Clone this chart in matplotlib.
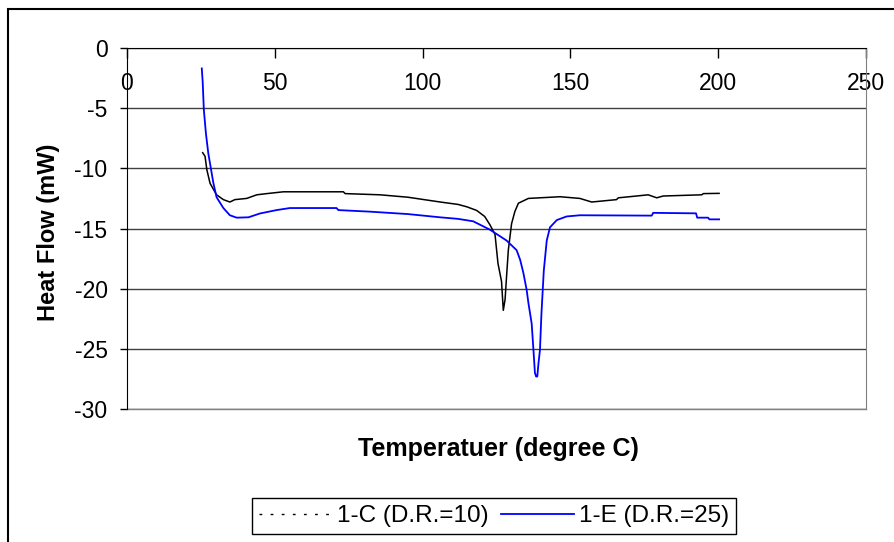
import matplotlib
matplotlib.use('Agg')
import matplotlib.pyplot as plt
from matplotlib.lines import Line2D
from matplotlib.patches import Rectangle

plt.rcParams['font.family'] = ['Liberation Sans', 'DejaVu Sans']
plt.rcParams['axes.unicode_minus'] = False

# DSC runs: temperature (C) vs heat flow (mW)
temp_c = [25.6, 26.4, 27.0, 28.1, 30.3, 32.6, 34.8, 36.5, 40.5, 43.9, 47.3, 52.9,
          73.2, 73.8, 85.6, 95.0, 106.0, 112.0, 115.0, 118.3, 121.0, 122.8, 124.5,
          125.5, 126.7, 127.3, 127.9, 128.4, 129.0, 130.1, 131.2, 132.4, 135.8,
          146.5, 153.2, 157.2, 165.6, 166.2, 172.4, 176.3, 179.2, 181.4, 194.4,
          195.0, 200.3]
flow_c = [-8.7, -9.0, -10.1, -11.25, -12.2, -12.6, -12.8, -12.6, -12.5, -12.2, -12.1, -11.95,
          -11.95, -12.1, -12.2, -12.4, -12.8, -13.0, -13.2, -13.5, -14.0, -14.7, -15.5,
          -17.9, -19.4, -21.8, -20.9, -19.0, -16.8, -14.6, -13.6, -12.9, -12.5,
          -12.36, -12.5, -12.8, -12.6, -12.45, -12.3, -12.2, -12.45, -12.3, -12.2,
          -12.1, -12.08]

temp_e = [25.3, 25.6, 26.0, 26.7, 27.5, 28.3, 29.2, 30.3, 32.6, 34.8, 37.1, 41.1,
          45.0, 50.6, 55.1, 70.9, 71.5, 82.2, 95.0, 105.9, 112.0, 117.1, 122.8,
          128.4, 131.8, 133.0, 134.1, 135.2, 135.8, 136.9, 137.5, 138.0, 138.4,
          138.8, 139.2, 139.7, 140.2, 141.0, 142.0, 143.1, 145.4, 148.7, 153.2,
          177.5, 178.0, 192.5, 192.9, 196.6, 197.0, 200.3]
flow_e = [-1.7, -2.8, -5.15, -7.1, -8.75, -9.9, -11.2, -12.4, -13.3, -13.9, -14.1, -14.07,
          -13.75, -13.47, -13.3, -13.3, -13.47, -13.6, -13.8, -14.07, -14.2, -14.4, -15.1,
          -16.0, -16.8, -17.6, -18.7, -20.1, -21.2, -22.9, -25.1, -27.0, -27.3,
          -27.3, -26.2, -25.1, -22.1, -18.5, -16.0, -14.9, -14.3, -14.0, -13.9,
          -13.93, -13.7, -13.74, -14.1, -14.1, -14.24, -14.24]

label_c = '1-C (D.R.=10)'
label_e = '1-E (D.R.=25)'
x_ticks = [0, 50, 100, 150, 200, 250]
y_ticks = [0, -5, -10, -15, -20, -25, -30]

W, H = 895, 542
fig = plt.figure(figsize=(W / 100, H / 100), dpi=100)

# chart frame (runs off the right and bottom edges)
fig.add_artist(Rectangle((8 / W, -0.2), 1.2, 1.2 - 9 / H, transform=fig.transFigure,
                         fill=False, edgecolor='black', lw=1.5))

ax = fig.add_axes([127 / W, 1 - 409 / H, (866 - 127) / W, (409 - 48) / H])
ax.plot(temp_c, flow_c, color='black', lw=1.1)
ax.plot(temp_e, flow_e, color='#0000ff', lw=1.3)

ax.set_xlim(0, 250)
ax.set_ylim(-30, 0)
ax.set_xticks(x_ticks)
ax.set_yticks(y_ticks)

# x axis crosses at y = 0, i.e. along the top
ax.spines['bottom'].set_position(('data', 0))
ax.spines['bottom'].set_color('black')
ax.spines['top'].set_visible(False)
ax.spines['right'].set_color('#808080')
ax.spines['left'].set_color('black')
ax.axhline(-30, color='#808080', lw=1.0, clip_on=False)

ax.yaxis.grid(True, color='#404040', lw=1.0)
ax.set_axisbelow(True)

ax.tick_params(axis='x', direction='out', length=7, width=1, pad=10, labelsize=16.5)
ax.tick_params(axis='y', direction='out', length=5, width=1, pad=9, labelsize=16.5)

ax.set_ylabel('Heat Flow (mW)', fontsize=17, fontweight='bold')
ax.yaxis.set_label_coords((60 - 127) / (866 - 127), (409 - 232) / (409 - 48))
fig.text(498 / W, 1 - 449 / H, 'Temperatuer (degree C)', fontsize=18, fontweight='bold',
         ha='center', va='center')

handles = [Line2D([], [], color='black', lw=1.0, linestyle=(0, (2, 6))),
           Line2D([], [], color='#0000ff', lw=1.3)]
leg = fig.legend(handles, [label_c, label_e], ncol=2, loc='center',
                 bbox_to_anchor=(494 / W, 1 - 516 / H), fontsize=17.5,
                 frameon=True, fancybox=False, edgecolor='black', framealpha=1,
                 handlelength=3, columnspacing=0.5, handletextpad=0.2, borderpad=0.3)
leg.get_frame().set_linewidth(1.0)

plt.savefig('out.png', dpi=100)
